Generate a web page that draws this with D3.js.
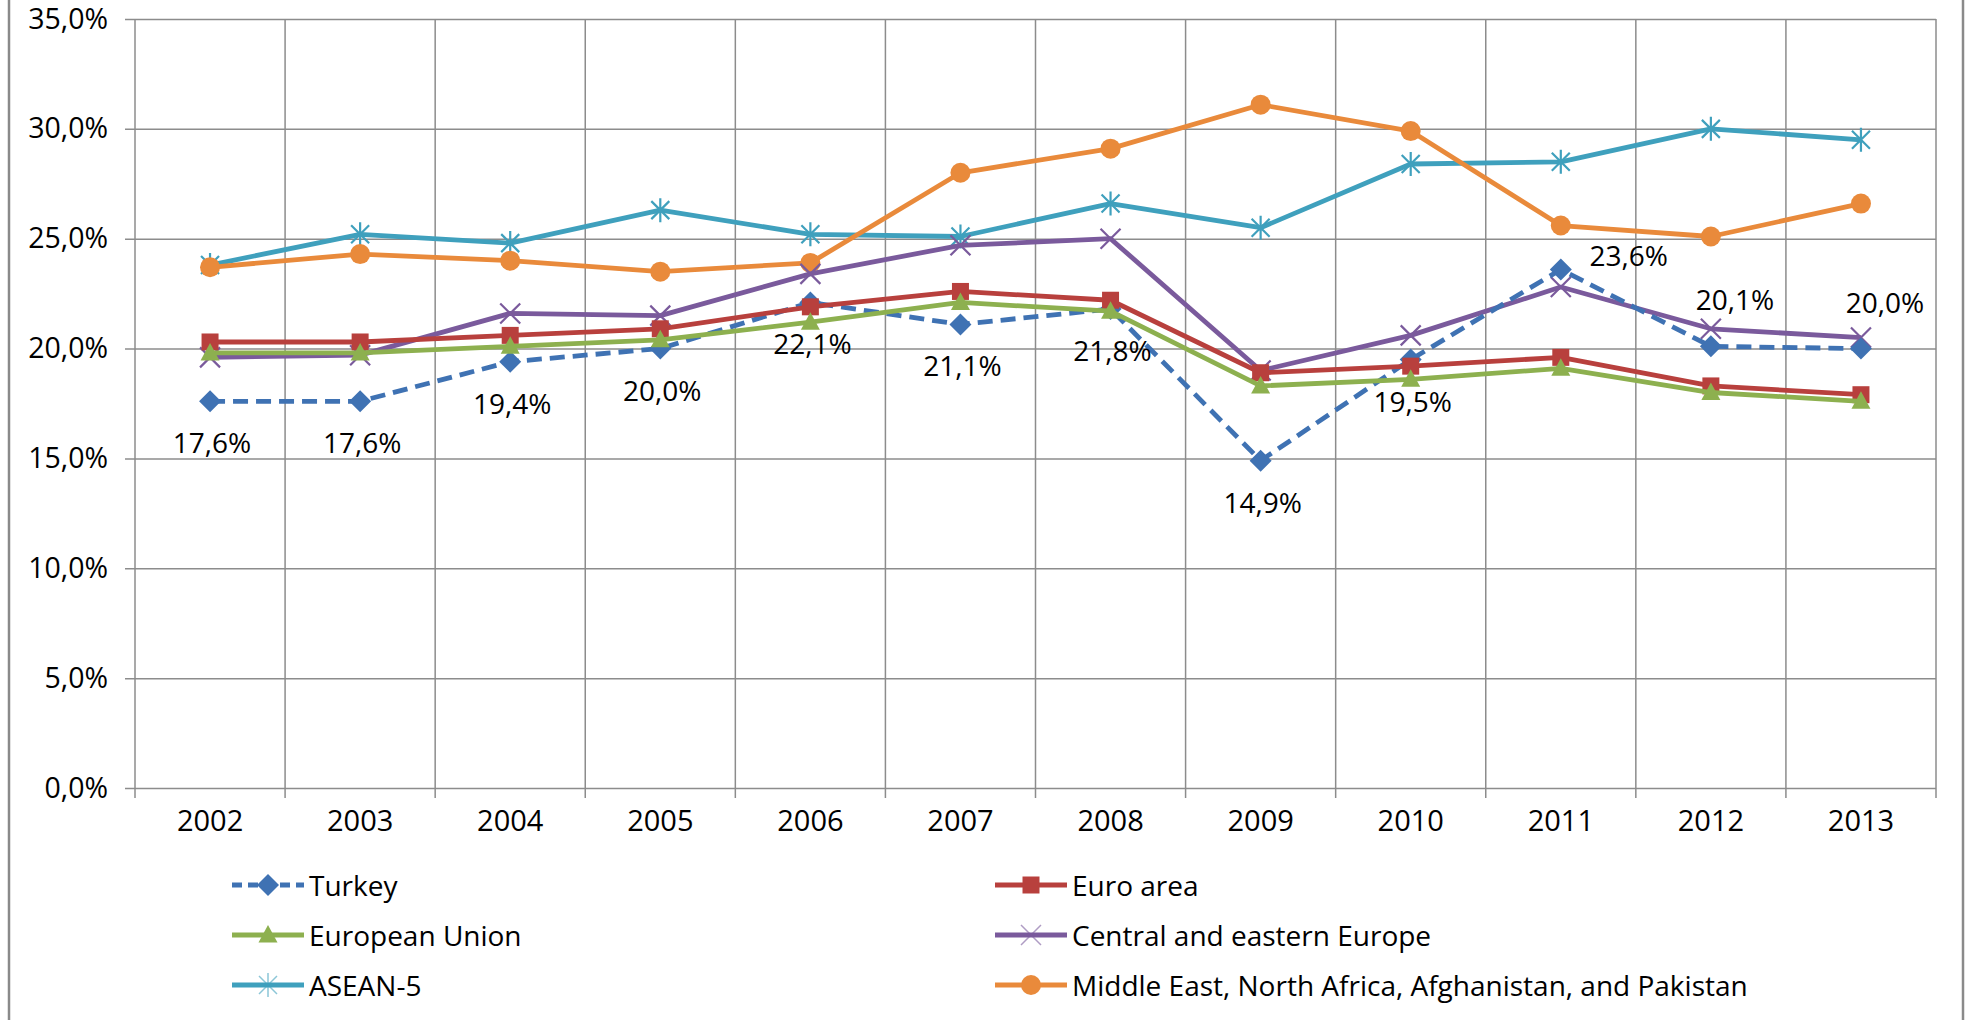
<!DOCTYPE html>
<html>
<head>
<meta charset="utf-8">
<script src="https://cdn.jsdelivr.net/npm/d3@7"></script>
<style>
	html, body { margin: 0; padding: 0; background: #fff; }
	svg { display: block; }
	text { font-family: 'Open Sans', sans-serif; fill: #000; }
</style>
</head>
<body>
<svg id="chart" width="1968" height="1020"></svg>
<script>
// data
const years = ['2002', '2003', '2004', '2005', '2006', '2007', '2008', '2009', '2010', '2011', '2012', '2013']
const yTicks = [0, 0.05, 0.10, 0.15, 0.20, 0.25, 0.30, 0.35]

const turkey = [17.6, 17.6, 19.4, 20.0, 22.1, 21.1, 21.8, 14.9, 19.5, 23.6, 20.1, 20.0]
const euroArea = [20.3, 20.3, 20.6, 20.9, 21.9, 22.6, 22.2, 18.9, 19.2, 19.6, 18.3, 17.9]
const europeanUnion = [19.8, 19.8, 20.1, 20.4, 21.2, 22.1, 21.7, 18.3, 18.6, 19.1, 18.0, 17.6]
const centralEastEurope = [19.6, 19.7, 21.6, 21.5, 23.4, 24.7, 25.0, 19.0, 20.6, 22.8, 20.9, 20.5]
const asean5 = [23.8, 25.2, 24.8, 26.3, 25.2, 25.1, 26.6, 25.5, 28.4, 28.5, 30.0, 29.5]
const menap = [23.7, 24.3, 24.0, 23.5, 23.9, 28.0, 29.1, 31.1, 29.9, 25.6, 25.1, 26.6]

// where each Turkey label sits relative to its point
const turkeyLabelPos = ['below', 'below', 'below', 'below', 'below', 'below', 'below', 'below', 'below', 'right', 'above', 'above']

const series = [
	{name: 'Turkey', values: turkey, color: '#3f72b3', marker: 'diamond', dash: '15,8'},
	{name: 'Euro area', values: euroArea, color: '#b8403d', marker: 'square'},
	{name: 'European Union', values: europeanUnion, color: '#8db04f', marker: 'triangle'},
	{name: 'Central and eastern Europe', values: centralEastEurope, color: '#7a5a9c', marker: 'x'},
	{name: 'ASEAN-5', values: asean5, color: '#3fa0bd', marker: 'star'},
	{name: 'Middle East, North Africa, Afghanistan, and Pakistan', values: menap, color: '#e98a3b', marker: 'circle'},
]

// draw order: back to front as in the picture
const drawOrder = [4, 5, 3, 0, 1, 2]

const svg = d3.select('#chart')
const plotLeft = 135, plotRight = 1936, plotTop = 19, plotBottom = 788

const x = d3.scaleBand().domain(years).range([plotLeft, plotRight])
const y = d3.scaleLinear().domain([0, 0.35]).range([plotBottom, plotTop])
const cx = d => x(d) + x.bandwidth() / 2

// outer frame edges
svg.append('line').attr('x1', 9).attr('x2', 9).attr('y1', 0).attr('y2', 1020)
	.attr('stroke', '#8a8a8a').attr('stroke-width', 2.5)
svg.append('line').attr('x1', 1963).attr('x2', 1963).attr('y1', 0).attr('y2', 1020)
	.attr('stroke', '#8a8a8a').attr('stroke-width', 2.5)

// horizontal grid + y axis
const yAxis = d3.axisLeft(y).tickValues(yTicks)
	.tickSize(-(plotRight - plotLeft + 10))
	.tickFormat(d => d3.format('.1f')(d * 100).replace('.', ',') + '%')
svg.append('g').attr('transform', `translate(${plotLeft - 10},0)`)
	.call(yAxis)
	.call(g => g.select('.domain').remove())
	.call(g => g.selectAll('line').attr('stroke', '#8c8c8c').attr('stroke-width', 1.5))
	.call(g => g.selectAll('text').attr('x', -17).style('font-size', '28.5px').style('font-family', 'Open Sans').attr('fill', '#000'))

// vertical grid at category edges
const edges = years.map(d => x(d)).concat([plotRight])
svg.append('g').selectAll('line').data(edges).join('line')
	.attr('x1', d => d).attr('x2', d => d)
	.attr('y1', plotTop).attr('y2', plotBottom + 10)
	.attr('stroke', '#8c8c8c').attr('stroke-width', 1.5)

// x labels
const xAxis = d3.axisBottom(x).tickSize(0).tickPadding(22)
svg.append('g').attr('transform', `translate(0,${plotBottom})`)
	.call(xAxis)
	.call(g => g.select('.domain').remove())
	.call(g => g.selectAll('text').style('font-size', '29px').style('font-family', 'Open Sans').attr('fill', '#000'))

function markerPath(type) {
	const p = d3.path()
	if (type === 'diamond') {
		p.moveTo(0, -11); p.lineTo(11, 0); p.lineTo(0, 11); p.lineTo(-11, 0); p.closePath()
	} else if (type === 'square') {
		p.rect(-8.5, -8.5, 17, 17)
	} else if (type === 'triangle') {
		p.moveTo(0, -10); p.lineTo(9.5, 7.5); p.lineTo(-9.5, 7.5); p.closePath()
	} else if (type === 'circle') {
		p.arc(0, 0, 10, 0, 2 * Math.PI)
	} else if (type === 'x') {
		p.moveTo(-10, -10); p.lineTo(10, 10); p.moveTo(-10, 10); p.lineTo(10, -10)
	} else if (type === 'star') {
		p.moveTo(-9, -9); p.lineTo(9, 9); p.moveTo(-9, 9); p.lineTo(9, -9)
		p.moveTo(0, -12); p.lineTo(0, 12)
	}
	return p.toString()
}
const strokeMarker = t => t === 'x' || t === 'star'

const line = d3.line().x((d, i) => cx(years[i])).y(d => y(d / 100))

drawOrder.forEach(si => {
	const s = series[si]
	const g = svg.append('g')
	g.append('path').datum(s.values).attr('d', line)
		.attr('fill', 'none').attr('stroke', s.color).attr('stroke-width', 4.8)
		.attr('stroke-dasharray', s.dash || null).attr('stroke-linejoin', 'round')
	g.selectAll('path.m').data(s.values).join('path').attr('class', 'm')
		.attr('transform', (d, i) => `translate(${cx(years[i])},${y(d / 100)})`)
		.attr('d', markerPath(s.marker))
		.attr('fill', strokeMarker(s.marker) ? 'none' : s.color)
		.attr('stroke', s.color).attr('stroke-width', strokeMarker(s.marker) ? 2.2 : 0)
})

// Turkey data labels
const fmt = v => d3.format('.1f')(v).replace('.', ',') + '%'
svg.append('g').selectAll('text').data(turkey).join('text')
	.attr('x', (d, i) => cx(years[i]) + (turkeyLabelPos[i] === 'right' ? 68 : turkeyLabelPos[i] === 'above' ? 24 : 2))
	.attr('y', (d, i) => y(d / 100) + (turkeyLabelPos[i] === 'below' ? 41 : turkeyLabelPos[i] === 'above' ? -47 : -14))
	.attr('text-anchor', 'middle').attr('dominant-baseline', 'central')
	.style('font-size', '28px')
	.text(fmt)

// legend, two columns
const legendCols = [232, 995]
const legendRows = [885, 935, 985]
const legend = svg.append('g').selectAll('g').data(series).join('g')
	.attr('transform', (d, i) => `translate(${legendCols[i % 2]},${legendRows[Math.floor(i / 2)]})`)
legend.append('line').attr('x1', 0).attr('x2', 72).attr('y1', 0).attr('y2', 0)
	.attr('stroke', d => d.color).attr('stroke-width', 4.8)
	.attr('stroke-dasharray', d => d.dash ? '10,6' : null)
legend.append('path').attr('transform', 'translate(36,0)')
	.attr('d', d => markerPath(d.marker))
	.attr('fill', d => strokeMarker(d.marker) ? 'none' : d.color)
	.attr('stroke', d => d.color).attr('stroke-width', d => strokeMarker(d.marker) ? 1.5 : 0)
	.attr('stroke-opacity', d => strokeMarker(d.marker) ? 0.6 : 1)
legend.append('text').attr('x', 77).attr('y', 0).attr('dominant-baseline', 'central')
	.style('font-size', '28px')
	.text(d => d.name)
</script>
</body>
</html>
